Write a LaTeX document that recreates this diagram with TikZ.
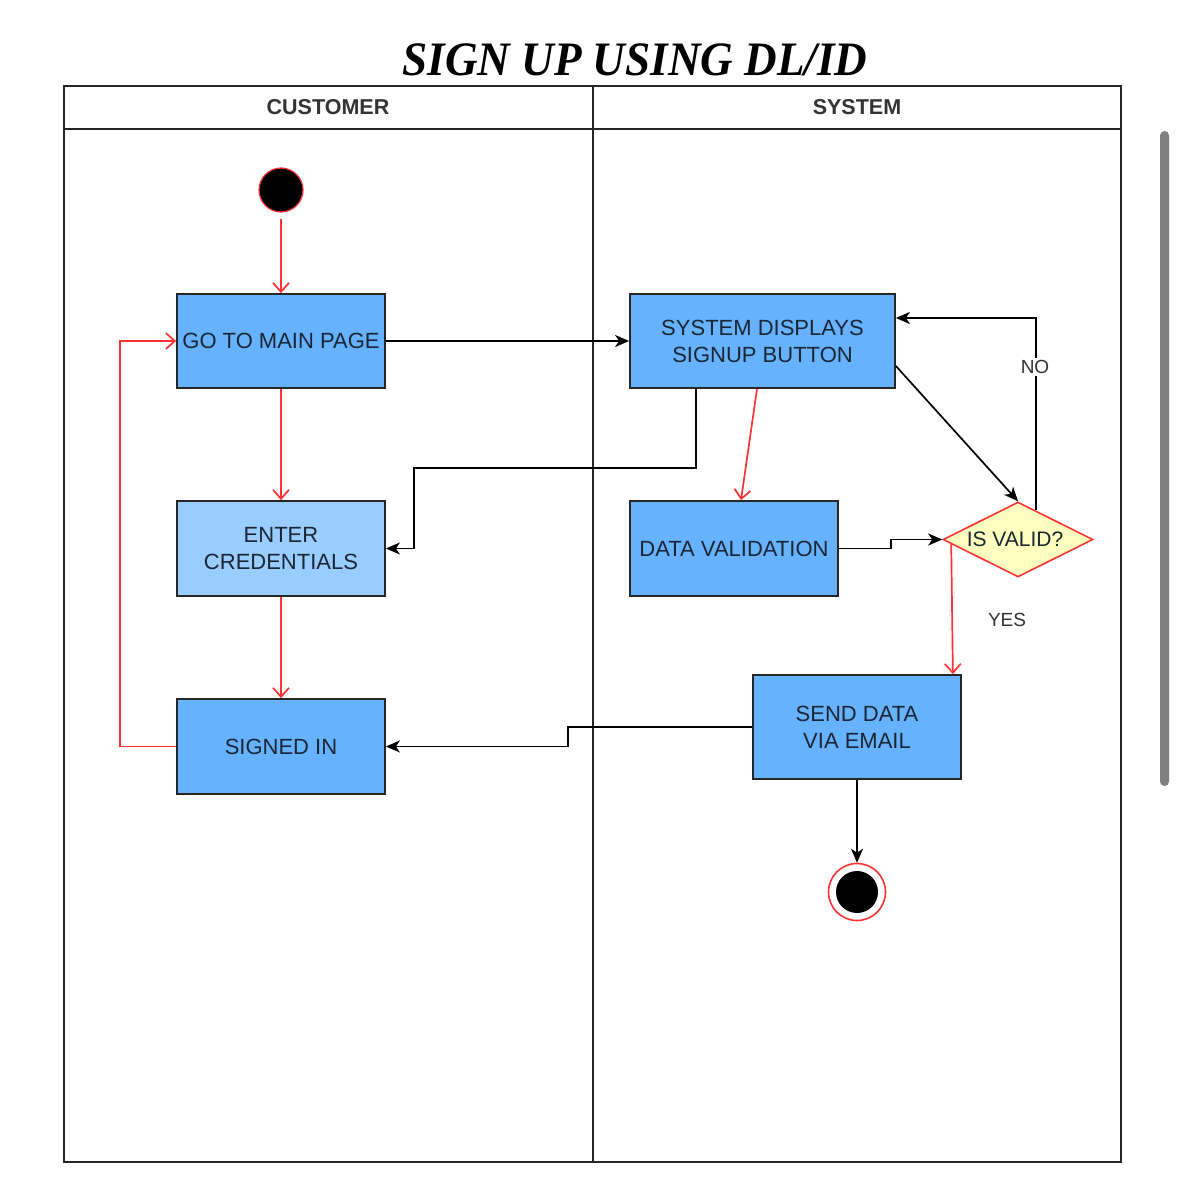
\documentclass[tikz,border=0pt]{standalone}
\usepackage{fontspec}
\setmainfont{Liberation Sans}
\newfontfamily\titlefont{Liberation Serif}
\usetikzlibrary{arrows.meta,shapes.geometric,calc}
\definecolor{boxblue}{HTML}{66B2FF}
\definecolor{boxlight}{HTML}{99CCFF}
\definecolor{dia}{HTML}{FFFFC0}
\definecolor{rline}{HTML}{FF3333}
\definecolor{txt}{HTML}{1A2633}
\tikzset{
  act/.style={draw=black!85, line width=1.8pt, fill=boxblue, text=txt, align=center,
    font=\fontsize{22}{27}\selectfont, inner sep=0pt},
  redc/.style={draw=rline, line width=1.7pt, -{Straight Barb[length=9pt,width=16pt,line width=1.7pt]}},
  blk/.style={draw=black, line width=1.7pt, -{Stealth[length=14pt,width=12pt,inset=4pt]}},
  lane/.style={draw=black!85, line width=1.8pt},
  hdr/.style={font=\bfseries\fontsize{21.5}{24}\selectfont, text=black!80},
  lbl/.style={font=\fontsize{19}{21}\selectfont, text=black!80, fill=white, inner sep=2pt}
}
\begin{document}
\begin{tikzpicture}[x=1pt,y=-1pt]
\useasboundingbox (0,0) rectangle (1179,1198);
% title
\node[font=\titlefont\bfseries\itshape\fontsize{48}{48}\selectfont, xscale=0.94] (title) at (635,60) {SIGN UP USING DL/ID};
% pool
\draw[lane] (64,86) rectangle (1121,1162);
\draw[lane] (64,129) -- (1121,129);
\draw[lane] (593,86) -- (593,1162);
\node[hdr] (hcust) at (328,107) {CUSTOMER};
\node[hdr] (hsys) at (857,107) {SYSTEM};
% scrollbar
\fill[black!50, rounded corners=4.5pt] (1160,131) rectangle (1169,786);
% nodes
\node[circle, fill=black, draw=rline, line width=1.2pt, minimum size=44pt, inner sep=0] (start) at (281,190) {};
\node[act, minimum width=208pt, minimum height=94pt] (go) at (281,341) {GO TO MAIN PAGE};
\node[act, fill=boxlight, minimum width=208pt, minimum height=95pt] (enter) at (281,548.5) {ENTER\\CREDENTIALS};
\node[act, minimum width=208pt, minimum height=95pt] (signed) at (281,746.5) {SIGNED IN};
\node[act, minimum width=265pt, minimum height=94pt] (sys) at (762.5,341) {SYSTEM DISPLAYS\\SIGNUP BUTTON};
\node[act, minimum width=208pt, minimum height=95pt] (dv) at (734,548.5) {DATA VALIDATION};
\node[diamond, draw=rline, line width=1.6pt, fill=dia, minimum width=150pt, minimum height=75pt, inner sep=0] (valid) at (1018,539.5) {};
\node[text=txt, font=\fontsize{21}{24}\selectfont] (validtxt) at (1015,539.5) {IS VALID?};
\node[act, minimum width=208pt, minimum height=104pt] (send) at (857,727) {SEND DATA\\VIA EMAIL};
\node[circle, draw=rline, line width=1.6pt, fill=white, minimum size=57pt, inner sep=0] (end) at (857,892) {};
\node[circle, fill=black, minimum size=42pt, inner sep=0] (endin) at (end) {};
% connectors
\draw[redc] ($(start.south)+(0,6)$) -- (go.north);
\draw[redc] (go.south) -- (enter.north);
\draw[redc] (enter.south) -- (signed.north);
\draw[redc] (signed.west) -- ++(-56,0) |- (go.west);
\draw[blk] (go.east) -- (sys.west);
\draw[blk] ($(sys.south west)+(67,0)$) -- ++(0,79) -- ++(-282,0) |- (enter.east);
\draw[redc] ($(sys.south)+(-5.5,0)$) -- ($(dv.north)+(7,0)$);
\draw[blk] ($(sys.east)+(0,25)$) -- (valid.north);
\draw[blk] (dv.east) -- ++(52,0) |- (valid.west);
\draw[blk] ($(valid.north)+(18,9)$) |- ($(sys.east)+(0,-23)$);
\node[lbl] (no) at (1035,367) {NO};
\draw[redc] ($(valid.west)+(9,4.5)$) -- ($(send.north east)+(-9,0)$);
\node[lbl] (yes) at (1007,620) {YES};
\draw[blk] (send.west) -- ++(-184,0) |- (signed.east);
\draw[blk] (send.south) -- (end.north);
\end{tikzpicture}
\end{document}
